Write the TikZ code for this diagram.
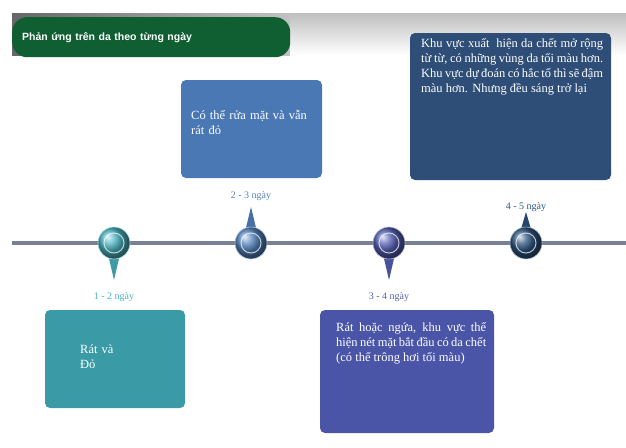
\documentclass[tikz,border=0pt]{standalone}
\usepackage{fontspec}
\setmainfont{Liberation Serif}
\newfontfamily\hsans{Liberation Sans}
\usetikzlibrary{shapes.geometric}
\definecolor{cA}{HTML}{4BB5C1}\definecolor{cB}{HTML}{5585C0}
\definecolor{cC}{HTML}{5560B5}\definecolor{cD}{HTML}{2E5580}
\definecolor{bA}{HTML}{3A9AA5}\definecolor{bB}{HTML}{4A78B5}
\definecolor{bC}{HTML}{4A55A8}\definecolor{bD}{HTML}{2E4E78}
\tikzset{
 infobox/.style={rounded corners=5pt,text=white,font=\fontsize{12.5}{15}\selectfont,align=justify,inner sep=10pt,anchor=north west},
 pinlabel/.style={font=\fontsize{10}{12}\selectfont},
 pin/.style={circle,minimum size=32pt,inner sep=0pt,draw=white!60!#1,line width=0.6pt,ball color=#1,shading=ball},
}
\begin{document}
\begin{tikzpicture}[x=1pt,y=-1pt]
\useasboundingbox (0,0) rectangle (626,447);
\fill[white] (0,0) rectangle (626,447);
% header strip
\shade[left color=gray!80!black,right color=white,middle color=gray!40] (12,13) rectangle (626,55);
\shade[top color=gray!50,bottom color=white] (290,13) rectangle (626,55);
\node[fill={rgb,255:red,15;green,95;blue,50},rounded corners=15pt,minimum width=278pt,minimum height=40pt,anchor=north west,text=white,font=\hsans\bfseries\fontsize{10.5}{12}\selectfont,text width=258pt,align=left] (title) at (12,17) {Phản ứng trên da theo từng ngày};
% timeline
\coordinate (L) at (12,243); \coordinate (R) at (626,243);
\draw[line width=4pt,color={rgb,255:red,120;green,128;blue,150}] (L) -- (R);
% pins
\fill[cA!85!black] (107,250) -- (114,280) -- (121,250) -- cycle;
\fill[cB!85!black] (244,236) -- (251,207) -- (258,236) -- cycle;
\fill[cC!85!black] (382,250) -- (389,280) -- (396,250) -- cycle;
\fill[cD!85!black] (519,236) -- (526,212) -- (533,236) -- cycle;
\node[pin=cA] (p1) at (114,243) {};
\node[pin=cB] (p2) at (251,243) {};
\node[pin=cC] (p3) at (389,243) {};
\node[pin=cD] (p4) at (526,243) {};
\foreach \p in {p1,p2,p3,p4}{\draw[white!75,line width=1pt,opacity=0.7] (\p) circle (10pt);}
\node[pinlabel,text=cA] (l1) at (114,297) {1 - 2 ngày};
\node[pinlabel,text=cB] (l2) at (251,196) {2 - 3 ngày};
\node[pinlabel,text=cC] (l3) at (389,297) {3 - 4 ngày};
\node[pinlabel,text=cD] (l4) at (526,207) {4 - 5 ngày};
% boxes
\fill[bA,rounded corners=5pt] (45,310) rectangle (185,408);
\node[infobox,text width=100pt,align=left] (t1) at (70,335) {Rát và\\Đỏ};
\fill[bB,rounded corners=5pt] (181,80) rectangle (322,178);
\node[infobox,text width=121pt,align=left] (t2) at (181,100) {Có thể rửa mặt và vẫn rát đỏ};
\fill[bC,rounded corners=5pt] (320,310) rectangle (494,433);
\node[infobox,text width=150pt,inner sep=0pt] (t3) at (336,322) {Rát hoặc ngứa, khu vực thể hiện nét mặt bắt đầu có da chết (có thể trông hơi tối màu)};
\fill[bD,rounded corners=5pt] (410,33) rectangle (611,180);
\node[infobox,text width=182pt,inner sep=0pt] (t4) at (421,38) {Khu vực xuất~ hiện da chết mở rộng từ từ, có những vùng da tối màu hơn. Khu vực dự đoán có hắc tố thì sẽ đậm màu hơn. Nhưng đều sáng trở lại};
\end{tikzpicture}
\end{document}
